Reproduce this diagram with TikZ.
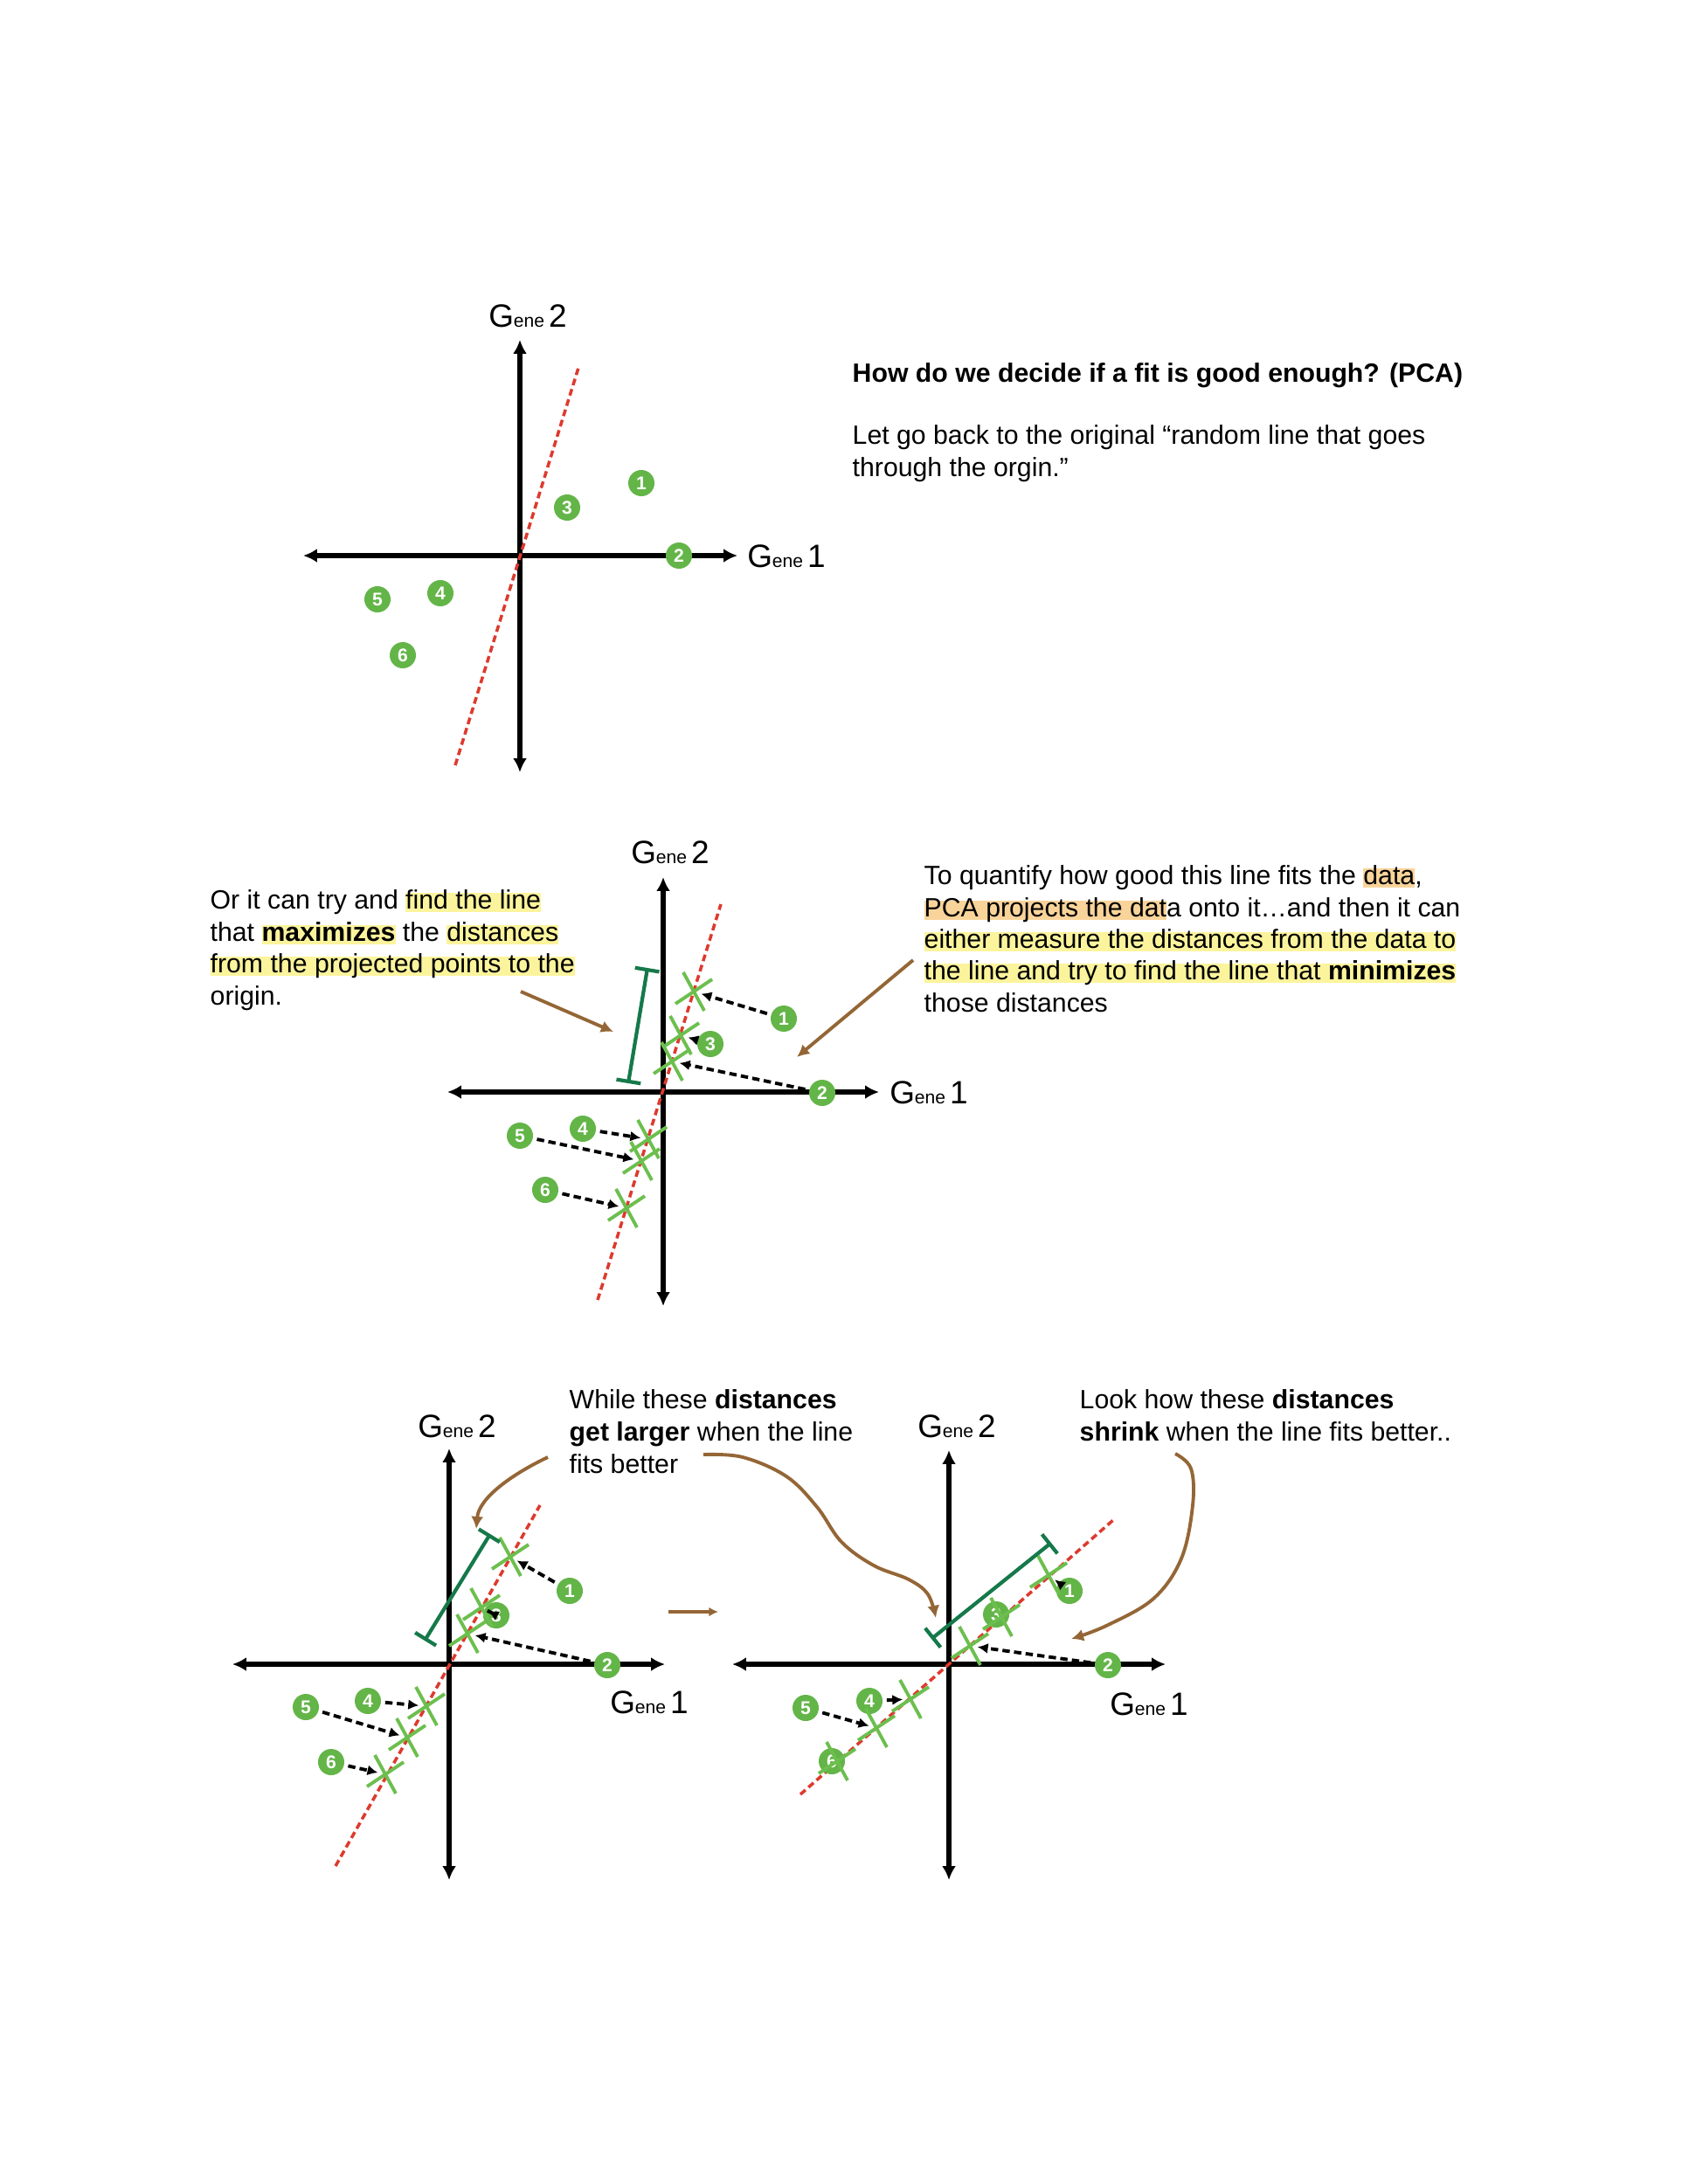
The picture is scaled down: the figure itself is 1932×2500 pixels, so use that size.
\documentclass[tikz,border=0pt]{standalone}
\usepackage{fontspec}
\setmainfont{Liberation Sans}
\usetikzlibrary{arrows.meta}
\definecolor{pcaPointGreen}{HTML}{63B548}
\definecolor{pcaCrossGreen}{HTML}{6CBF4E}
\definecolor{pcaBarGreen}{HTML}{15794A}
\definecolor{pcaFitRed}{HTML}{DD3A2E}
\definecolor{pcaNoteBrown}{HTML}{946636}
\definecolor{pcaHlYellow}{HTML}{FBF49C}
\definecolor{pcaHlOrange}{HTML}{F9D49A}
\newsavebox\pcaHlBox
\newcommand{\hly}[1]{\sbox\pcaHlBox{#1}\rlap{\textcolor{pcaHlYellow}{\rule[-0.12em]{\wd\pcaHlBox}{0.7em}}}\usebox\pcaHlBox}
\newcommand{\hlo}[1]{\sbox\pcaHlBox{#1}\rlap{\textcolor{pcaHlOrange}{\rule[-0.12em]{\wd\pcaHlBox}{0.7em}}}\usebox\pcaHlBox}
\newcommand{\genelab}[1]{{\fontsize{10.5}{10.5}\selectfont G}{\fontsize{6}{6}\selectfont ene}\,{\fontsize{10.5}{10.5}\selectfont #1}}

\begin{document}
\begin{tikzpicture}[x=0.01cm, y=-0.01cm,
    every node/.style={font=\fontsize{8.6}{10}\selectfont},
    txt/.style={anchor=base west, inner sep=0pt},
    axis/.style={line width=1.5pt, {Latex[length=4.5pt,width=4.5pt]}-{Latex[length=4.5pt,width=4.5pt]}},
    redfit/.style={pcaFitRed, line width=1pt, dash pattern=on 2.2pt off 1.3pt},
    pt/.style={circle, fill=pcaPointGreen, text=white, inner sep=0pt, minimum size=0.3cm, font=\fontsize{6}{6}\selectfont\bfseries},
    gene/.style={inner sep=0pt},
    proj/.style={line width=1.1pt, dash pattern=on 2.4pt off 1.4pt, -{Latex[length=3.4pt,width=3.4pt]}, shorten <=1.2pt, shorten >=2.5pt},
    spread/.style={pcaBarGreen, line width=1.2pt, {Bar[width=8pt]}-{Bar[width=8pt]}},
    note/.style={pcaNoteBrown, line width=1.1pt, -{Latex[length=4pt,width=4pt]}},
    xmark/.pic={\draw[pcaCrossGreen, line width=1.1pt] (-21,14) -- (21,-14) (-12,-22) -- (12,22);}]
\useasboundingbox[fill=white] (0,0) rectangle (1932,2500);

% top plot: the random line
\coordinate (aW) at (347,636);
\coordinate (aE) at (844,636);
\coordinate (aN) at (595,389);
\coordinate (aS) at (595,884);
\coordinate (aFitT) at (662,421);
\coordinate (aFitB) at (521,876);
\draw[axis] (aW) -- (aE);
\draw[axis] (aS) -- (aN);
\draw[redfit] (aFitB) -- (aFitT);
\node[pt] (a1) at (734,553) {1};
\node[pt] (a3) at (649,581) {3};
\node[pt] (a2) at (777,636) {2};
\node[pt] (a4) at (504,679) {4};
\node[pt] (a5) at (432,686) {5};
\node[pt] (a6) at (461,750) {6};
\node[gene] (aG1) at (900,637) {\genelab{1}};
\node[gene] (aG2) at (604,362) {\genelab{2}};

\node[txt, font=\fontsize{8.6}{10}\selectfont\bfseries] (title) at (975,437) {How do we decide if a fit is good enough? (PCA)};
\node[txt] (introA) at (975,508) {Let go back to the original “random line that goes};
\node[txt] (introB) at (975,545) {through the orgin.”};

% middle plot: projecting the data
\coordinate (bW) at (512,1250);
\coordinate (bE) at (1006,1250);
\coordinate (bN) at (759,1004);
\coordinate (bS) at (759,1495);
\coordinate (bFitT) at (825,1035);
\coordinate (bFitB) at (684,1488);
\draw[axis] (bW) -- (bE);
\draw[axis] (bS) -- (bN);
\draw[redfit] (bFitB) -- (bFitT);
\node[pt] (b1) at (897,1166) {1};
\node[pt] (b3) at (813,1195) {3};
\node[pt] (b2) at (941,1251) {2};
\node[pt] (b4) at (667,1292) {4};
\node[pt] (b5) at (595,1300) {5};
\node[pt] (b6) at (624,1362) {6};
\coordinate (bx1) at (794,1135);
\coordinate (bx3) at (779,1185);
\coordinate (bx2) at (769,1215);
\coordinate (bx4) at (742,1304);
\coordinate (bx5) at (734,1329);
\coordinate (bx6) at (717,1383);
\foreach \k in {1,...,6} {
  \pic at (bx\k) {xmark};
  \draw[proj] (b\k) -- (bx\k);
}
\node[gene] (bG1) at (1063,1251) {\genelab{1}};
\node[gene] (bG2) at (767,976) {\genelab{2}};
\coordinate (bBarT) at (741,1108);
\coordinate (bBarB) at (719,1240);
\draw[spread] (bBarT) -- (bBarB);

\node[txt] (maxL1) at (240,1040) {Or it can try and \hly{find the line}};
\node[txt] (maxL2) at (240,1077) {that \hly{\textbf{maximizes}} the \hly{distances}};
\node[txt] (maxL3) at (240,1113) {\hly{from the projected points to the}};
\node[txt] (maxL4) at (240,1150) {origin.};
\coordinate (maxFrom) at (596,1135);
\coordinate (maxTo) at (702,1181);
\draw[note] (maxFrom) -- (maxTo);

\node[txt] (minL1) at (1057,1012) {To quantify how good this line fits the \hlo{data},};
\node[txt] (minL2) at (1057,1049) {\hlo{PCA projects the dat}a onto it…and then it can};
\node[txt] (minL3) at (1057,1085) {\hly{either measure the distances from the data to}};
\node[txt] (minL4) at (1057,1121) {\hly{the line and try to find the line that \textbf{minimizes}}};
\node[txt] (minL5) at (1057,1158) {those distances};
\coordinate (minFrom) at (1045,1099);
\coordinate (minTo) at (912,1210);
\draw[note] (minFrom) -- (minTo);

% bottom left plot: steeper line
\coordinate (cW) at (266,1905);
\coordinate (cE) at (761,1905);
\coordinate (cN) at (514,1658);
\coordinate (cS) at (514,2152);
\coordinate (cFitT) at (618,1723);
\coordinate (cFitB) at (384,2136);
\draw[axis] (cW) -- (cE);
\draw[axis] (cS) -- (cN);
\draw[redfit] (cFitB) -- (cFitT);
\node[pt] (c1) at (652,1821) {1};
\node[pt] (c3) at (568,1849) {3};
\node[pt] (c2) at (695,1906) {2};
\node[pt] (c4) at (421,1947) {4};
\node[pt] (c5) at (350,1954) {5};
\node[pt] (c6) at (379,2017) {6};
\coordinate (cx1) at (584,1782);
\coordinate (cx3) at (551,1840);
\coordinate (cx2) at (535,1870);
\coordinate (cx4) at (488,1953);
\coordinate (cx5) at (466,1989);
\coordinate (cx6) at (441,2031);
\foreach \k in {1,...,6} {
  \pic at (cx\k) {xmark};
  \draw[proj] (c\k) -- (cx\k);
}
\node[gene] (cG1) at (743,1949) {\genelab{1}};
\node[gene] (cG2) at (523,1633) {\genelab{2}};
\coordinate (cBarT) at (561,1756);
\coordinate (cBarB) at (486,1878);
\draw[spread] (cBarT) -- (cBarB);

\node[txt] (largeL1) at (651,1612) {While these \textbf{distances}};
\node[txt] (largeL2) at (651,1649) {\textbf{get larger} when the line};
\node[txt] (largeL3) at (651,1686) {fits better};
\coordinate (largeFromA) at (627,1668);
\coordinate (largeToA) at (545,1750);
\draw[note] (largeFromA) .. controls (585,1688) and (548,1715) .. (largeToA);

\coordinate (stepFrom) at (765,1845);
\coordinate (stepTo) at (822,1845);
\draw[note, -{Latex[length=3pt,width=3pt]}] (stepFrom) -- (stepTo);

% bottom right plot: better fit
\coordinate (dW) at (838,1905);
\coordinate (dE) at (1334,1905);
\coordinate (dN) at (1086,1660);
\coordinate (dS) at (1086,2152);
\coordinate (dFitT) at (1274,1740);
\coordinate (dFitB) at (916,2054);
\draw[axis] (dW) -- (dE);
\draw[axis] (dS) -- (dN);
\draw[redfit] (dFitB) -- (dFitT);
\node[pt] (d1) at (1224,1821) {1};
\node[pt] (d3) at (1140,1848) {3};
\node[pt] (d2) at (1268,1906) {2};
\node[pt] (d4) at (995,1947) {4};
\node[pt] (d5) at (922,1955) {5};
\node[pt] (d6) at (952,2016) {6};
\coordinate (dx1) at (1200,1803);
\coordinate (dx3) at (1146,1851);
\coordinate (dx2) at (1110,1884);
\coordinate (dx4) at (1042,1945);
\coordinate (dx5) at (1003,1978);
\coordinate (dx6) at (958,2016);
\foreach \k in {1,...,6} \pic at (dx\k) {xmark};
\foreach \k in {1,2,4,5} \draw[proj] (d\k) -- (dx\k);
\node[gene] (dG1) at (1315,1951) {\genelab{1}};
\node[gene] (dG2) at (1095,1633) {\genelab{2}};
\coordinate (dBarT) at (1203,1766);
\coordinate (dBarB) at (1066,1876);
\draw[spread] (dBarT) -- (dBarB);

\node[txt] (shrinkL1) at (1235,1612) {Look how these \textbf{distances}};
\node[txt] (shrinkL2) at (1235,1649) {\textbf{shrink} when the line fits better..};
\coordinate (largeFromB) at (805,1665);
\coordinate (largeToB) at (1071,1852);
\draw[note] plot[smooth, tension=0.6] coordinates {(largeFromB) (850,1668) (900,1690) (935,1725) (963,1765) (1000,1792) (1040,1808) (1062,1825) (largeToB)};
\coordinate (shrinkFrom) at (1345,1664);
\coordinate (shrinkTo) at (1226,1876);
\draw[note] plot[smooth, tension=0.6] coordinates {(shrinkFrom) (1363,1681) (1365,1723) (1352,1784) (1320,1830) (1266,1861) (shrinkTo)};
\end{tikzpicture}
\end{document}
